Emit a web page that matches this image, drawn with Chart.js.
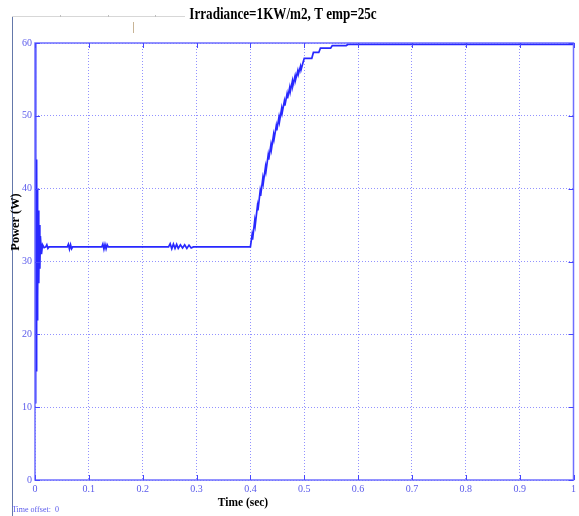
<!DOCTYPE html>
<html>
<head>
<meta charset="utf-8">
<script src="https://cdn.jsdelivr.net/npm/chart.js@4/dist/chart.umd.min.js"></script>
<style>
  html, body { margin: 0; padding: 0; background: #ffffff; }
  #wrap { width: 579px; height: 516px; position: relative; }
</style>
</head>
<body>
<div id="wrap"><canvas id="scope" width="579" height="516"></canvas></div>
<script>
// Scope trace: PV array output power, irradiance 1 kW/m2, 25 C
const timeSec = [
  0, 0.0008, 0.0016, 0.0024, 0.003, 0.0038, 0.0045, 0.0052, 0.006, 0.007, 0.008, 0.009, 0.010, 0.012, 0.014,
  0.017, 0.020, 0.022, 0.024, 0.026,
  0.060, 0.062, 0.064, 0.066, 0.068, 0.070,
  0.124, 0.126, 0.128, 0.130, 0.132, 0.134, 0.136,
  0.248, 0.251, 0.254, 0.257, 0.260, 0.263, 0.266, 0.270, 0.274, 0.278, 0.282, 0.286, 0.290, 0.294,
  0.400, 0.403, 0.404, 0.408, 0.409, 0.413, 0.414, 0.418, 0.419, 0.423, 0.424, 0.428, 0.429,
  0.433, 0.434, 0.438, 0.439, 0.443, 0.444, 0.448, 0.449, 0.453, 0.454, 0.458, 0.459,
  0.463, 0.464, 0.468, 0.469, 0.473, 0.474, 0.478, 0.479, 0.483, 0.484, 0.488, 0.489,
  0.493, 0.494, 0.498, 0.500, 0.514, 0.517, 0.527, 0.530, 0.549, 0.552, 0.578, 0.581, 1.0
];
const powerW = [
  60, 10.5, 45, 15, 44, 22, 40, 25, 37, 27, 35, 29, 33.5, 31, 32.3,
  31.9, 32.0, 32.3, 31.8, 32.0,
  32.0, 32.35, 31.7, 32.3, 31.75, 32.0,
  32.0, 32.4, 31.7, 32.35, 31.75, 32.3, 32.0,
  32.0, 32.45, 31.75, 32.4, 31.8, 32.35, 31.8, 32.3, 31.85, 32.3, 31.8, 32.25, 31.85, 32.0,
  32.0, 33.6, 33.0, 35.6, 35.0, 37.6, 37.0, 39.6, 39.0, 41.4, 40.8, 43.0, 42.4,
  44.6, 44.0, 46.0, 45.4, 47.4, 46.8, 48.6, 48.0, 49.8, 49.2, 51.0, 50.4,
  52.0, 51.4, 53.0, 52.4, 53.9, 53.3, 54.8, 54.2, 55.5, 55.0, 56.2, 55.7,
  56.8, 56.3, 57.4, 57.9, 57.9, 58.7, 58.7, 59.3, 59.3, 59.65, 59.65, 59.8, 59.8
];
const xTicks = [0, 0.1, 0.2, 0.3, 0.4, 0.5, 0.6, 0.7, 0.8, 0.9, 1];
const yTicks = [0, 10, 20, 30, 40, 50, 60];

const chartTitle = 'Irradiance=1KW/m2, T emp=25c';
const xTitle = 'Time (sec)';
const yTitle = 'Power (W)';
const offsetNote = 'Time offset:  0';

const traceBlue = 'rgb(40,40,255)';
const axisBlue = 'rgb(110,110,255)';
const gridBlue = 'rgba(140,140,255,0.95)';
const labelBlue = 'rgb(90,90,235)';

const points = timeSec.map((t, i) => ({ x: t, y: powerW[i] }));

// draws condensed bold serif text centred on (x, y)
function condensedText(ctx, text, x, y, size, squeeze, angle) {
  ctx.save();
  ctx.translate(x, y);
  if (angle) ctx.rotate(angle);
  ctx.scale(squeeze, 1);
  ctx.font = 'bold ' + size + 'px "Liberation Serif"';
  ctx.textAlign = 'center';
  ctx.textBaseline = 'middle';
  ctx.fillText(text, 0, 0);
  ctx.restore();
}

const scopeDecor = {
  id: 'scopeDecor',
  beforeDraw(chart) {
    const ctx = chart.ctx;
    ctx.save();
    // window frame lines
    ctx.strokeStyle = 'rgb(100,120,170)';
    ctx.lineWidth = 1;
    ctx.beginPath();
    ctx.moveTo(12.5, 16); ctx.lineTo(12.5, 516);
    ctx.stroke();
    ctx.strokeStyle = 'rgb(215,215,215)';
    ctx.beginPath();
    ctx.moveTo(12, 16.5); ctx.lineTo(185, 16.5);
    ctx.stroke();
    ctx.strokeStyle = 'rgb(190,190,190)';
    [60, 108, 155].forEach(x => {
      ctx.beginPath(); ctx.moveTo(x + 0.5, 15); ctx.lineTo(x + 0.5, 17); ctx.stroke();
    });
    ctx.strokeStyle = 'rgb(200,180,150)';
    ctx.beginPath(); ctx.moveTo(133.5, 22); ctx.lineTo(133.5, 33); ctx.stroke();
    ctx.restore();
  },
  afterDraw(chart) {
    const ctx = chart.ctx;
    const a = chart.chartArea;
    const xs = chart.scales.x, ys = chart.scales.y;
    ctx.save();
    // plot border
    ctx.strokeStyle = axisBlue;
    ctx.lineWidth = 1.5;
    ctx.strokeRect(a.left, a.top, a.right - a.left, a.bottom - a.top);
    // inward tick marks
    ctx.lineWidth = 1;
    ctx.strokeStyle = 'rgb(70,70,255)';
    xTicks.forEach(v => {
      const px = Math.round(xs.getPixelForValue(v)) + 0.5;
      ctx.beginPath(); ctx.moveTo(px, a.bottom); ctx.lineTo(px, a.bottom - 5); ctx.stroke();
      ctx.beginPath(); ctx.moveTo(px, a.top); ctx.lineTo(px, a.top + 5); ctx.stroke();
    });
    yTicks.forEach(v => {
      const py = Math.round(ys.getPixelForValue(v)) + 0.5;
      ctx.beginPath(); ctx.moveTo(a.left, py); ctx.lineTo(a.left + 5, py); ctx.stroke();
      ctx.beginPath(); ctx.moveTo(a.right, py); ctx.lineTo(a.right - 5, py); ctx.stroke();
    });
    // title and axis labels
    ctx.fillStyle = '#000000';
    condensedText(ctx, chartTitle, 283, 15, 16, 0.82, 0);
    condensedText(ctx, xTitle, 243, 503, 13, 0.88, 0);
    condensedText(ctx, yTitle, 16, 222, 13, 0.95, -Math.PI / 2);
    ctx.fillStyle = labelBlue;
    ctx.font = '8px "Liberation Sans Narrow"';
    ctx.textAlign = 'left';
    ctx.textBaseline = 'middle';
    ctx.fillText(offsetNote, 12, 510);
    ctx.restore();
  }
};

new Chart(document.getElementById('scope'), {
  type: 'line',
  data: {
    datasets: [{
      data: points,
      borderColor: traceBlue,
      borderWidth: 1.7,
      pointRadius: 0,
      tension: 0,
      fill: false
    }]
  },
  options: {
    responsive: false,
    animation: false,
    layout: { padding: { top: 43, right: 4, left: 0, bottom: 0 } },
    plugins: { legend: { display: false }, tooltip: { enabled: false }, title: { display: false } },
    scales: {
      x: {
        type: 'linear',
        min: 0, max: 1,
        afterFit(scale) { scale.height = 36; },
        afterBuildTicks(scale) { scale.ticks = xTicks.map(v => ({ value: v })); },
        ticks: {
          color: labelBlue,
          font: { family: 'Liberation Sans Narrow', size: 10 },
          padding: 3,
          maxRotation: 0,
          autoSkip: false,
          callback: v => String(v)
        },
        grid: { color: gridBlue, lineWidth: 1, drawTicks: false },
        border: { display: false, dash: [1, 2] }
      },
      y: {
        type: 'linear',
        min: 0, max: 60,
        afterFit(scale) { scale.width = 35; },
        afterBuildTicks(scale) { scale.ticks = yTicks.map(v => ({ value: v })); },
        ticks: {
          color: labelBlue,
          font: { family: 'Liberation Sans Narrow', size: 10 },
          padding: 3,
          autoSkip: false,
          callback: v => String(v)
        },
        grid: { color: gridBlue, lineWidth: 1, drawTicks: false },
        border: { display: false, dash: [1, 2] }
      }
    }
  },
  plugins: [scopeDecor]
});
</script>
</body>
</html>
